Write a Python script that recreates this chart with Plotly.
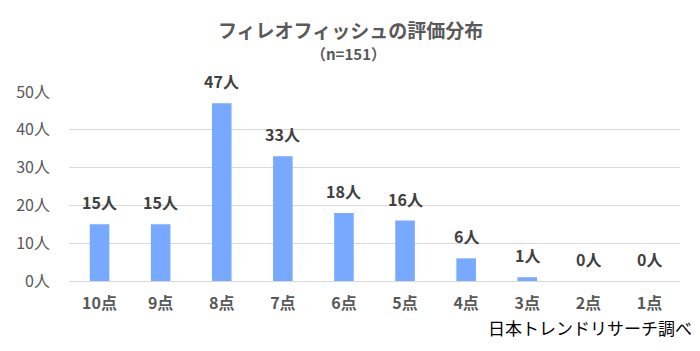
import plotly.graph_objects as go

categories = ["10点", "9点", "8点", "7点", "6点", "5点", "4点", "3点", "2点", "1点"]
values = [15, 15, 47, 33, 18, 16, 6, 1, 0, 0]
y_tickvals = [0, 10, 20, 30, 40, 50]
y_ticktext = ["0人", "10人", "20人", "30人", "40人", "50人"]
title_text = "フィレオフィッシュの評価分布"
subtitle_text = "（n=151）"
source_text = "日本トレンドリサーチ調べ"

FONT = "Noto Sans CJK JP"
W, H = 700, 351
ML, MR, MT, MB = 69, 20, 92, 70

fig = go.Figure()
fig.add_trace(go.Bar(
    x=categories, y=values,
    marker=dict(color="#76A9FF", line=dict(width=0)),
    width=0.32,
    hoverinfo="x+y",
))

annotations = []
for c, v in zip(categories, values):
    annotations.append(dict(
        x=c, y=v, xref="x", yref="y", text=f"{v}人", showarrow=False,
        yanchor="bottom", yshift=8,
        font=dict(family=FONT, size=16, color="#404040", weight="bold"),
    ))

annotations += [
    dict(text=title_text, x=350 / W, xanchor="center",
         y=1 - 30 / H, yanchor="middle", showarrow=False,
         font=dict(family=FONT, size=19, color="#595959", weight="bold")),
    dict(text=subtitle_text, x=348 / W, xanchor="center",
         y=1 - 53 / H, yanchor="middle", showarrow=False,
         font=dict(family=FONT, size=15, color="#595959", weight="bold")),
    dict(text=source_text, x=694 / W, xanchor="right",
         y=1 - 327 / H, yanchor="middle", showarrow=False,
         font=dict(family=FONT, size=17, color="#000000")),
]
for a in annotations[-3:]:
    a["xref"] = "paper"
    a["yref"] = "paper"

fig.update_layout(
    width=W, height=H,
    margin=dict(l=ML, r=MR, t=MT, b=MB),
    paper_bgcolor="white", plot_bgcolor="white",
    showlegend=False,
    font=dict(family=FONT),
    xaxis=dict(
        tickfont=dict(family=FONT, size=16, color="#595959", weight="bold"),
        showline=True, linecolor="#d9d9d9", linewidth=1,
        ticks="", showgrid=False, ticklabelstandoff=8,
    ),
    yaxis=dict(
        range=[0, 50],
        tickvals=y_tickvals, ticktext=y_ticktext,
        tickfont=dict(family=FONT, size=16, color="#595959"),
        gridcolor="#d9d9d9", gridwidth=1,
        zeroline=False, showline=False, ticks="",
        ticklabelstandoff=18,
    ),
    annotations=annotations,
)

# convert figure-pixel placements to plot-area paper coords
plot_w = W - ML - MR
plot_h = H - MT - MB
for a in fig.layout.annotations[-3:]:
    px_x = a.x * W
    px_y = (1 - a.y) * H
    a.x = (px_x - ML) / plot_w
    a.y = (H - MB - px_y) / plot_h

fig.write_html("out.html")
